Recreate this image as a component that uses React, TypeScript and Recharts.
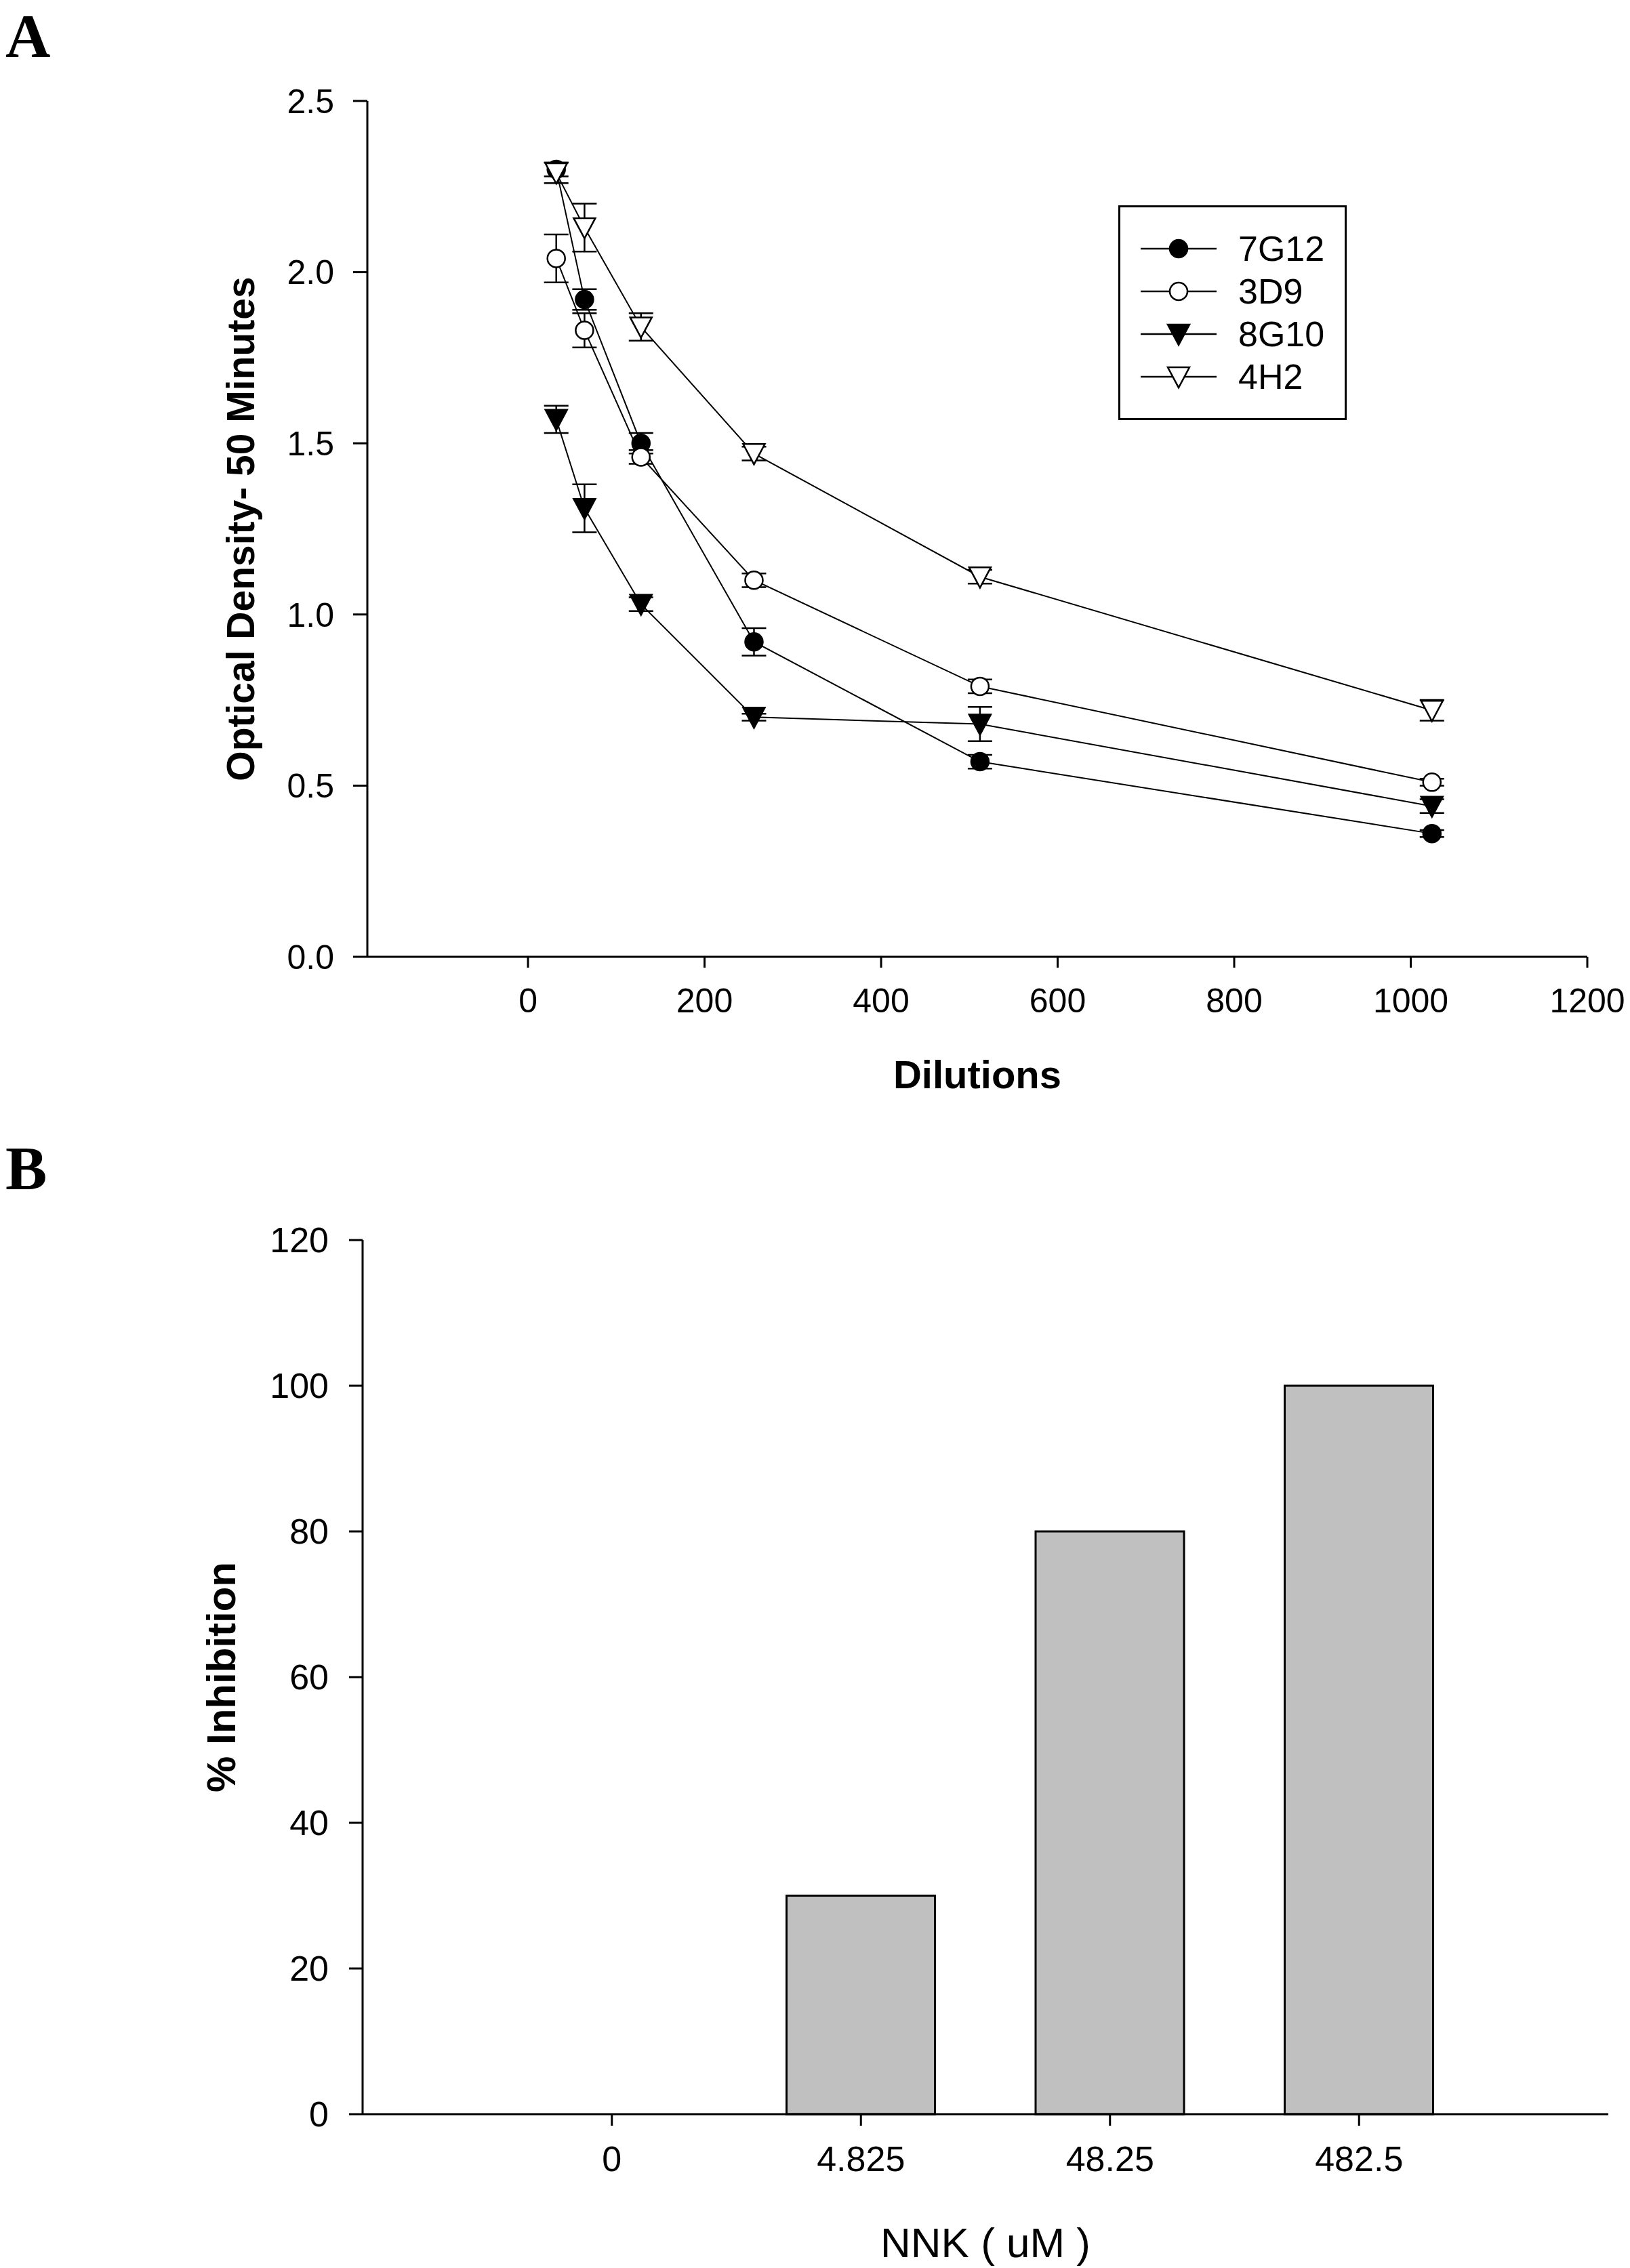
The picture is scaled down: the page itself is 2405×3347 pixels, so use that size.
import React from "react";
import {
  LineChart,
  Line,
  XAxis,
  YAxis,
  ErrorBar,
  Legend,
  BarChart,
  Bar,
  Label,
} from "recharts";

// panel A: optical density vs dilution
const dilutions = [32, 64, 128, 256, 512, 1024];
const seriesNames = ["7G12", "3D9", "8G10", "4H2"];
const od7G12 = [2.3, 1.92, 1.5, 0.92, 0.57, 0.36];
const err7G12 = [0.02, 0.03, 0.03, 0.04, 0.02, 0.01];
const od3D9 = [2.04, 1.83, 1.46, 1.1, 0.79, 0.51];
const err3D9 = [0.07, 0.05, 0.02, 0.02, 0.02, 0.01];
const od8G10 = [1.57, 1.31, 1.03, 0.7, 0.68, 0.44];
const err8G10 = [0.04, 0.07, 0.02, 0.01, 0.05, 0.02];
const od4H2 = [2.29, 2.13, 1.84, 1.47, 1.11, 0.72];
const err4H2 = [0.03, 0.07, 0.04, 0.02, 0.02, 0.03];
const odTicks = [0, 0.5, 1, 1.5, 2, 2.5];
const dilutionTicks = [0, 200, 400, 600, 800, 1000, 1200];

// panel B: inhibition vs NNK
const nnkLabels = ["0", "4.825", "48.25", "482.5"];
const inhibition = [0, 30, 80, 100];
const inhibitionTicks = [0, 20, 40, 60, 80, 100, 120];

const NARROW = "'Liberation Sans Narrow', 'Arial Narrow', 'Liberation Sans', Arial, sans-serif";
const SANS = "'Liberation Sans', Arial, sans-serif";
const SERIF = "'Liberation Serif', 'Times New Roman', serif";

const markers: Record<string, { shape: "circle" | "tri"; filled: boolean }> = {
  "7G12": { shape: "circle", filled: true },
  "3D9": { shape: "circle", filled: false },
  "8G10": { shape: "tri", filled: true },
  "4H2": { shape: "tri", filled: false },
};

const allValues = [od7G12, od3D9, od8G10, od4H2];
const allErrors = [err7G12, err3D9, err8G10, err4H2];

const lineData = dilutions.map((x, i) => {
  const row: Record<string, number> = { x };
  seriesNames.forEach((name, s) => {
    row[name] = allValues[s][i];
    row[name + "_err"] = allErrors[s][i];
  });
  return row;
});

const barData = nnkLabels.map((c, i) => ({ c, v: inhibition[i] }));

function drawMarker(name: string, cx: number, cy: number, key: string) {
  const m = markers[name];
  const fill = m.filled ? "#000" : "#fff";
  if (m.shape === "circle") {
    return <circle key={key} cx={cx} cy={cy} r={13} fill={fill} stroke="#000" strokeWidth={2.5} />;
  }
  const pts = `${cx - 16},${cy - 14} ${cx + 16},${cy - 14} ${cx},${cy + 16}`;
  return <polygon key={key} points={pts} fill={fill} stroke="#000" strokeWidth={2.5} />;
}

const LegendBox = () => (
  <div
    style={{
      width: 337,
      height: 317,
      border: "3px solid #000",
      boxSizing: "border-box",
      position: "relative",
      background: "#fff",
    }}
  >
    {seriesNames.map((name, i) => {
      const cy = 61 + i * 63;
      return (
        <div key={name}>
          <svg
            width={130}
            height={40}
            style={{ position: "absolute", left: 28, top: cy - 20 }}
          >
            <line x1={2} y1={20} x2={114} y2={20} stroke="#000" strokeWidth={2.5} />
            {drawMarker(name, 58, 20, name)}
          </svg>
          <div
            style={{
              position: "absolute",
              left: 174,
              top: cy - 30,
              fontFamily: NARROW,
              fontSize: 52,
              lineHeight: "60px",
              color: "#000",
            }}
          >
            {name}
          </div>
        </div>
      );
    })}
  </div>
);

const axisStroke = { stroke: "#000", strokeWidth: 3 };

const letterStyle = {
  position: "absolute" as const,
  left: 8,
  fontFamily: SERIF,
  fontWeight: "bold" as const,
  fontSize: 92,
  lineHeight: "normal",
  color: "#000",
};

export default function App() {
  return (
    <div
      style={{
        position: "absolute",
        left: 0,
        top: 0,
        width: 2405,
        height: 3347,
        overflow: "hidden",
        background: "#fff",
      }}
    >
      <div style={{ ...letterStyle, top: 0 }}>A</div>
      <div style={{ ...letterStyle, top: 1671 }}>B</div>

      <div style={{ position: "absolute", left: 0, top: 0 }}>
        <LineChart
          width={2405}
          height={1758}
          data={lineData}
          margin={{ top: 149, right: 63, bottom: 0, left: 168 }}
        >
          <XAxis
            type="number"
            dataKey="x"
            domain={[-182, 1200]}
            ticks={dilutionTicks}
            allowDataOverflow
            height={346}
            tickSize={16}
            tickMargin={30}
            axisLine={axisStroke}
            tickLine={axisStroke}
            tick={{ fontSize: 50, fill: "#000", fontFamily: NARROW }}
          >
            <Label
              value="Dilutions"
              position="center"
              style={{ fontSize: 58, fontWeight: "bold", fontFamily: SANS, fill: "#000" }}
            />
          </XAxis>
          <YAxis
            type="number"
            domain={[0, 2.5]}
            ticks={odTicks}
            width={374}
            tickSize={21}
            tickMargin={28}
            tickFormatter={(v: number) => v.toFixed(1)}
            axisLine={axisStroke}
            tickLine={axisStroke}
            tick={{ fontSize: 50, fill: "#000", fontFamily: NARROW }}
          >
            <Label
              value="Optical Density- 50 Minutes"
              position="center"
              angle={-90}
              style={{ fontSize: 57, fontWeight: "bold", fontFamily: SANS, fill: "#000" }}
            />
          </YAxis>
          <Legend
            layout="horizontal"
            verticalAlign="middle"
            align="center"
            wrapperStyle={{ left: 1650, top: 303, width: 337, height: 317 }}
            content={() => <LegendBox />}
          />
          {seriesNames.map((name) => (
            <Line
              key={name}
              type="linear"
              dataKey={name}
              name={name}
              stroke="#000"
              strokeWidth={2}
              isAnimationActive={false}
              activeDot={false}
              dot={(p: any) => drawMarker(name, p.cx, p.cy, `${name}-${p.index}`)}
            >
              <ErrorBar
                dataKey={name + "_err"}
                direction="y"
                width={18}
                stroke="#000"
                strokeWidth={2.5}
                isAnimationActive={false}
              />
            </Line>
          ))}
        </LineChart>
      </div>

      <div style={{ position: "absolute", left: 0, top: 1700 }}>
        <BarChart
          width={2405}
          height={1798}
          data={barData}
          margin={{ top: 130, right: 32, bottom: 0, left: 117 }}
        >
          <XAxis
            dataKey="c"
            type="category"
            padding={{ left: 184, right: 184 }}
            height={378}
            tickSize={17}
            tickMargin={30}
            axisLine={axisStroke}
            tickLine={axisStroke}
            tick={{ fontSize: 52, fill: "#000", fontFamily: NARROW }}
          >
            <Label
              value="NNK ( uM )"
              position="center"
              style={{ fontSize: 62, fontFamily: SANS, fill: "#000" }}
            />
          </XAxis>
          <YAxis
            type="number"
            domain={[0, 120]}
            ticks={inhibitionTicks}
            width={418}
            tickSize={20}
            tickMargin={30}
            axisLine={axisStroke}
            tickLine={axisStroke}
            tick={{ fontSize: 52, fill: "#000", fontFamily: NARROW }}
          >
            <Label
              value="% Inhibition"
              position="center"
              angle={-90}
              style={{ fontSize: 60, fontWeight: "bold", fontFamily: SANS, fill: "#000" }}
            />
          </YAxis>
          <Bar
            dataKey="v"
            barSize={219}
            fill="#c0c0c0"
            stroke="#000"
            strokeWidth={3}
            isAnimationActive={false}
          />
        </BarChart>
      </div>
    </div>
  );
}
